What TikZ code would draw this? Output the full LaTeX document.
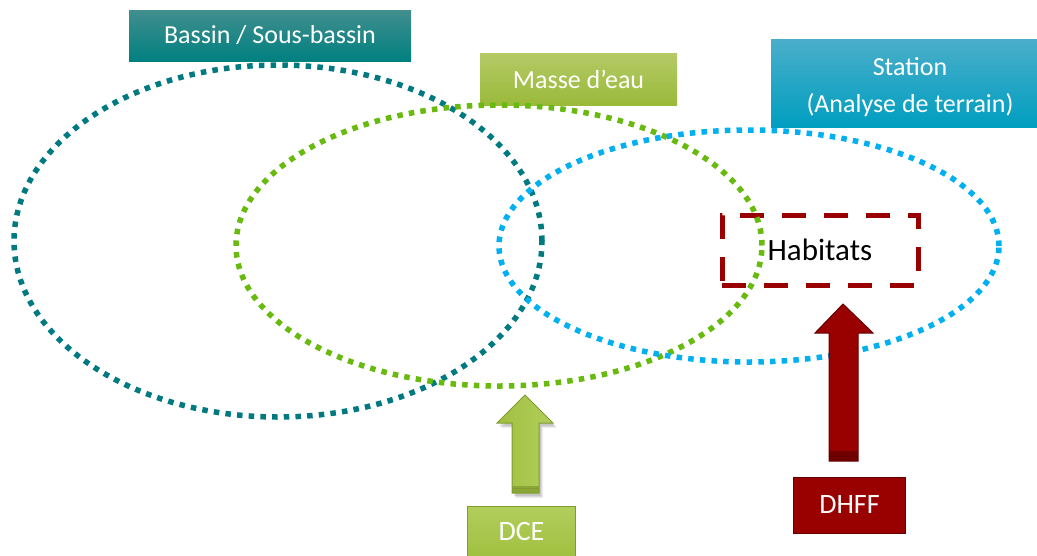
\documentclass[tikz,border=0pt]{standalone}
\usepackage{fontspec}
\setmainfont{Carlito}
\definecolor{tealE}{RGB}{0,122,128}
\definecolor{greenE}{RGB}{104,186,14}
\definecolor{blueE}{RGB}{0,176,240}
\definecolor{darkred}{RGB}{153,0,0}
\definecolor{darkredB}{RGB}{102,0,0}
\definecolor{tealTop}{RGB}{66,142,142}
\definecolor{tealBot}{RGB}{0,128,128}
\definecolor{grTop}{RGB}{180,202,102}
\definecolor{grBot}{RGB}{154,186,58}
\definecolor{blTop}{RGB}{74,174,202}
\definecolor{blBot}{RGB}{0,158,192}
\definecolor{dceL}{RGB}{160,192,64}
\definecolor{dceR}{RGB}{178,206,92}
\definecolor{dceB}{RGB}{128,156,48}
\tikzset{
  lbl/.style={inner sep=0pt, text=white, font=\fontsize{26}{37}\selectfont, align=center},
  dotline/.style={line width=5.5pt, dash pattern=on 5.5pt off 6.2pt},
  habbox/.style={draw=darkred, line width=5pt, dash pattern=on 24pt off 18pt, minimum width=196pt, minimum height=70pt, inner sep=0pt, font=\fontsize{31}{36}\selectfont},
}
\begin{document}
\begin{tikzpicture}[x=1pt,y=-1pt]
\useasboundingbox (0,0) rectangle (1037,555);
% label boxes
\node[lbl, top color=tealTop, bottom color=tealBot, minimum width=282pt, minimum height=51pt] (bassin) at (270,35.5) {Bassin / Sous-bassin};
\node[lbl, top color=grTop, bottom color=grBot, minimum width=197pt, minimum height=52pt] (masse) at (578.5,79) {Masse d’eau};
\node[lbl, top color=blTop, bottom color=blBot, minimum width=266pt, minimum height=88pt] (station) at (904,83) {};
\node[lbl, anchor=center] (stationtxt) at (910,87) {Station\\ (Analyse de terrain)};
% habitats
\node[habbox] (hab) at (820,250) {Habitats};
% ellipses
\draw[tealE, dotline] (278,241) ellipse [x radius=264pt, y radius=176pt];
\draw[greenE, dotline] (499,245.5) ellipse [x radius=263pt, y radius=140.5pt];
\draw[blueE, dotline] (749,246) ellipse [x radius=250pt, y radius=116pt];
% DHFF arrow
\fill[darkred] (829,461) -- (829,333) -- (815,333) -- (843,304) -- (873,333) -- (858,333) -- (858,461) -- cycle;
\fill[darkredB!80!darkred] (829,451) rectangle (858,461);
\draw[darkredB, line width=0.8pt] (829,456) -- (858,456);
\draw[darkredB, line width=1pt, line join=miter] (829,461) -- (829,333) -- (815,333) -- (843,304) -- (873,333) -- (858,333) -- (858,461) -- cycle;
% DCE arrow shadow
\foreach \o/\a in {5/0.06,4/0.08,3/0.1}{
  \fill[black, opacity=\a] (512+\o-1,493+\o) -- (512+\o-1,423+\o) -- (497+\o-1,423+\o) -- (525+\o-1,395+\o) -- (553+\o-1,423+\o) -- (539+\o-1,423+\o) -- (539+\o-1,493+\o) -- cycle;
}
\shade[left color=dceL, right color=dceR] (512,493) -- (512,423) -- (497,423) -- (525,395) -- (553,423) -- (539,423) -- (539,493) -- cycle;
\fill[dceB!70!dceL] (512,486) rectangle (539,493);
\draw[dceB, line width=0.8pt] (512,488) -- (539,488);
\draw[dceB, line width=1pt] (512,493) -- (512,423) -- (497,423) -- (525,395) -- (553,423) -- (539,423) -- (539,493) -- cycle;
% bottom boxes
\node[lbl, fill=darkred, draw=darkredB, line width=1pt, minimum width=112pt, minimum height=56pt, font=\fontsize{28}{34}\selectfont] (dhff) at (849.5,505) {DHFF};
\node[lbl, top color=dceR, bottom color=dceL, draw=dceB, line width=1pt, minimum width=108pt, minimum height=52pt, font=\fontsize{28}{34}\selectfont] (dce) at (521.5,532) {DCE};
\end{tikzpicture}
\end{document}
